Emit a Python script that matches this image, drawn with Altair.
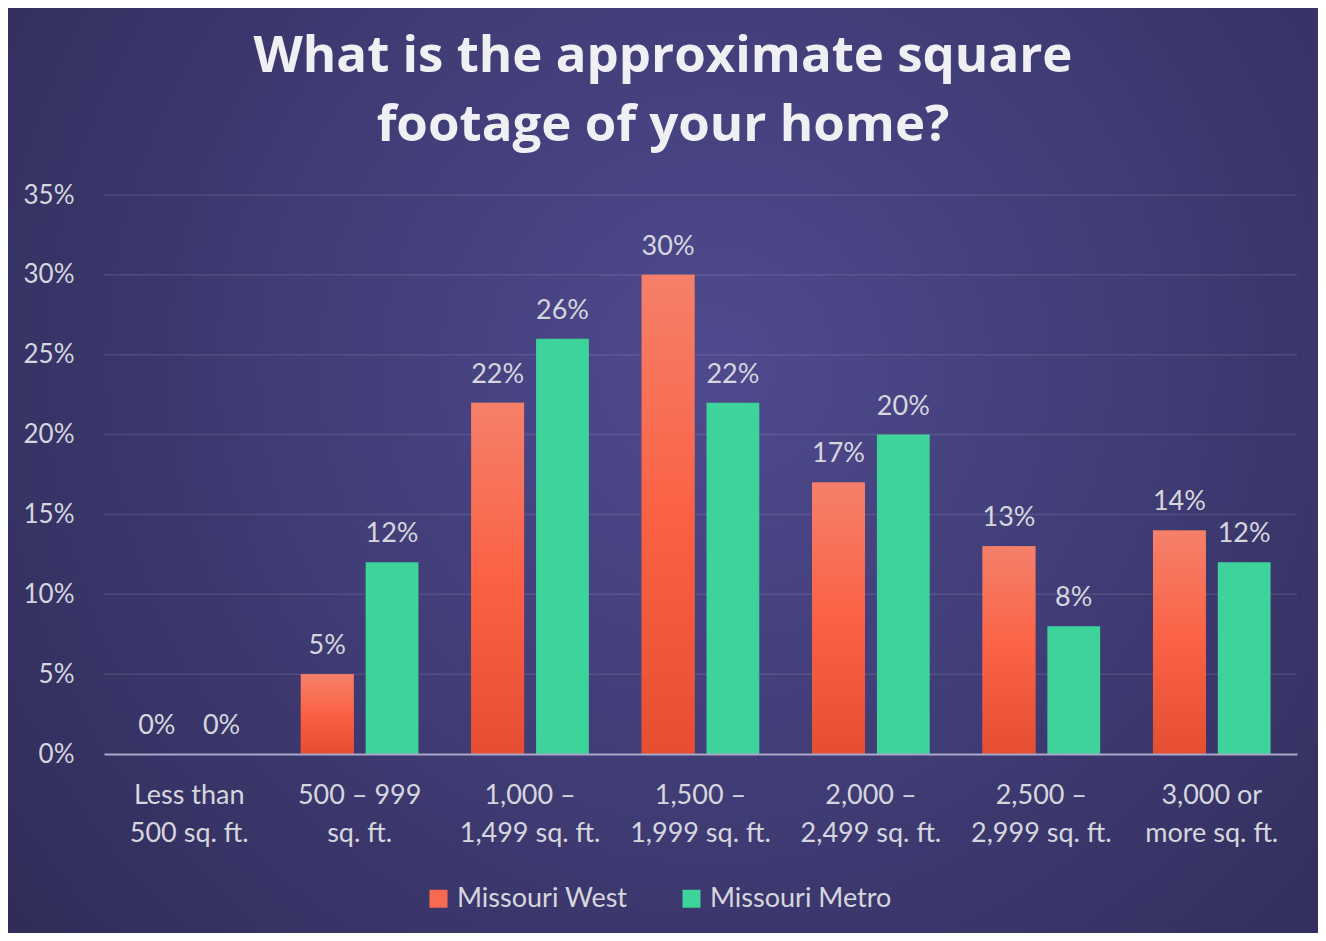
import altair as alt
import pandas as pd

categories = ["Less than\n500 sq. ft.", "500 – 999\nsq. ft.", "1,000 –\n1,499 sq. ft.",
              "1,500 –\n1,999 sq. ft.", "2,000 –\n2,499 sq. ft.", "2,500 –\n2,999 sq. ft.",
              "3,000 or\nmore sq. ft."]
series = ["Missouri West", "Missouri Metro"]
west = [0, 5, 22, 30, 17, 13, 14]
metro = [0, 12, 26, 22, 20, 8, 12]
y_ticks = [0, 5, 10, 15, 20, 25, 30, 35]
grid_ticks = [5, 10, 15, 20, 25, 30, 35]

rows = []
for c, w, m in zip(categories, west, metro):
    rows.append({"cat": c, "series": series[0], "value": w})
    rows.append({"cat": c, "series": series[1], "value": m})
df = pd.DataFrame(rows)

W, H = 1193, 559
PL, PT, PR, PB = 96, 187, 21, 179

TEXT = "#d6d6de"
FONT = "Lato"

x_enc = alt.X("cat:N", sort=categories,
              scale=alt.Scale(paddingInner=0.31, paddingOuter=0.155),
              axis=alt.Axis(title=None, labelAngle=0, labelExpr="split(datum.label, '\\n')",
                            labelFont=FONT, labelFontSize=27, labelColor=TEXT, labelLineHeight=38,
                            labelPadding=28, ticks=False, domainColor="#a9a8c8", domainWidth=2,
                            grid=False, zindex=1, labelBaseline="top"))
y_enc = alt.Y("value:Q", scale=alt.Scale(domain=[0, 35], nice=False),
              axis=alt.Axis(title=None, values=y_ticks, labelExpr="datum.value + '%'",
                            labelFont=FONT, labelFontSize=26, labelColor=TEXT, labelPadding=30,
                            ticks=False, domain=False, grid=False, zindex=1))
xoff = alt.XOffset("series:N", sort=series,
                   scale=alt.Scale(domain=series, paddingInner=0.185, paddingOuter=0))

bg = alt.Chart(pd.DataFrame({"bg": [0]})).mark_rect(
    fill=alt.RadialGradient(gradient="radial", x1=0.54, y1=0.42, x2=0.54, y2=0.42, r1=0, r2=0.72,
                            stops=[alt.GradientStop(offset=0, color="#4f4a8e"),
                                   alt.GradientStop(offset=1, color="#2e2b57")])
).encode(x=alt.value(-PL), x2=alt.value(W + PR), y=alt.value(-PT), y2=alt.value(H + PB))

grid = alt.Chart(pd.DataFrame({"t": grid_ticks})).mark_rule(
    color="#ffffff", opacity=0.1, strokeWidth=1.5
).encode(y=alt.Y("t:Q", scale=alt.Scale(domain=[0, 35], nice=False)))

bars = alt.Chart(df).mark_bar().encode(
    x=x_enc, y=y_enc, xOffset=xoff,
    color=alt.Color("series:N", sort=series,
                    scale=alt.Scale(domain=series, range=["#f86a50", "#3dd39b"]),
                    legend=alt.Legend(title=None, orient="none", legendX=321, legendY=690,
                                      direction="horizontal", symbolType="square", symbolSize=324,
                                      symbolStrokeWidth=0, labelFont=FONT, labelFontSize=27,
                                      labelColor=TEXT, labelOffset=5, columnPadding=50,
                                      labelLimit=400, zindex=1))
)

red_grad = alt.Chart(df).transform_filter(alt.datum.series == series[0]).mark_bar(
    fill=alt.LinearGradient(gradient="linear", x1=0, y1=0, x2=0, y2=1,
                            stops=[alt.GradientStop(offset=0, color="#f5806a"),
                                   alt.GradientStop(offset=0.5, color="#fb6244"),
                                   alt.GradientStop(offset=1, color="#e54e31")])
).encode(x=alt.X("cat:N", sort=categories), y="value:Q", xOffset=xoff)

labels = alt.Chart(df).transform_calculate(lab="datum.value + '%'").mark_text(
    font=FONT, fontSize=27, color=TEXT, baseline="alphabetic", dy=-20
).encode(x=alt.X("cat:N", sort=categories), y="value:Q", xOffset=xoff, text="lab:N")

chart = alt.layer(bg, grid, bars, red_grad, labels).properties(
    width=W, height=H,
    padding={"left": PL, "top": PT, "right": PR, "bottom": PB},
    autosize=alt.AutoSizeParams(type="none"),
    background="#35315f",
    title=alt.Title(["What is the approximate square", "footage of your home?"],
                    font="Open Sans", fontSize=51, fontWeight="bold", color="#f0f0f4",
                    anchor="middle", frame="group", dx=-37.5, offset=-144, lineHeight=69, zindex=1),
).configure_view(stroke=None)

chart.save("out.html", embed_options={"renderer": "svg", "actions": False})
